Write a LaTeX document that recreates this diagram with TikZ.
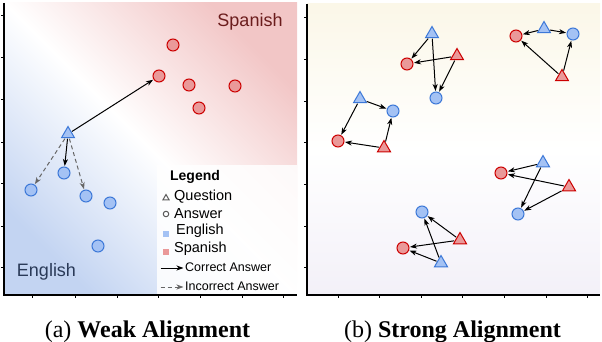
\documentclass[tikz,border=0pt]{standalone}
\usepackage{fontspec}
\setmainfont{Liberation Serif}
\newfontfamily\lsans{Liberation Sans}
\usetikzlibrary{shapes.geometric,arrows.meta}
\definecolor{bfill}{HTML}{A4C2F4}
\definecolor{bstroke}{HTML}{3C78D8}
\definecolor{rfill}{HTML}{EA9999}
\definecolor{rstroke}{HTML}{CC0000}
\definecolor{bshade}{HTML}{C3D4F2}
\definecolor{rshade}{HTML}{F2C6C6}
\definecolor{spantext}{HTML}{6B1C1C}
\definecolor{engtext}{HTML}{2A3A58}
\definecolor{ytop}{HTML}{FBF7E8}
\definecolor{lbot}{HTML}{F3F0F8}
\tikzset{
  bq/.style={regular polygon, regular polygon sides=3, draw=bstroke, fill=bfill, line width=1pt, inner sep=0pt, minimum size=15pt},
  rq/.style={bq, draw=rstroke, fill=rfill},
  ba/.style={circle, draw=bstroke, fill=bfill, line width=1pt, inner sep=0pt, minimum size=12pt},
  ra/.style={ba, draw=rstroke, fill=rfill},
  arr/.style={-{Stealth[length=7pt,width=5pt,inset=2pt]}, line width=1pt, black, shorten >=0.5pt, shorten <=0.5pt},
  darr/.style={arr, dash pattern=on 4pt off 3pt, black!60},
  axisline/.style={line width=1.1pt, black},
  tick/.style={line width=0.6pt, black},
  legtext/.style={font=\lsans\fontsize{14.5}{16}\selectfont, anchor=west, inner sep=0pt},
  legsmall/.style={font=\lsans\fontsize{12.5}{14}\selectfont, anchor=west, inner sep=0pt},
  captext/.style={font=\fontsize{24}{26}\selectfont, anchor=base, inner sep=0pt},
  bigtext/.style={font=\lsans\fontsize{18}{20}\selectfont}
}
\begin{document}
\begin{tikzpicture}[x=1pt,y=-1pt]
\useasboundingbox (0,0) rectangle (602,342);
% ---------- left panel background ----------
\shade[top color=rshade, bottom color=bshade, middle color=white, shading angle=-45] (4,3) rectangle (297,295);
\fill[white, opacity=0.85] (157,165) rectangle (297,294);
\node[bigtext, text=spantext] (lspan) at (250,22) {Spanish};
\node[bigtext, text=engtext] (leng) at (46.5,272) {English};
% axes
\draw[axisline] (4,3) -- (4,295) -- (297,295);
\foreach \yy in {15,57,99,142,183,226,267} \draw[tick] (4,\yy) -- (1,\yy);
\foreach \xx in {32,75,117,158,200,242,283} \draw[tick] (\xx,295) -- (\xx,298);
% points
\node[ra] (r1) at (173,45) {};
\node[ra] (r2) at (159,76) {};
\node[ra] (r3) at (189,85) {};
\node[ra] (r4) at (235,86) {};
\node[ra] (r5) at (199,108) {};
\node[bq] (q) at (68,134) {};
\node[ba] (b1) at (64,173) {};
\node[ba] (b2) at (31,190) {};
\node[ba] (b3) at (86,196) {};
\node[ba] (b4) at (110,203) {};
\node[ba] (b5) at (98,246) {};
\draw[arr] (q) -- (r2);
\draw[arr] (q) -- (b1);
\draw[darr] (q) -- (b2);
\draw[darr] (q) -- (b3);
% legend
\node[font=\lsans\bfseries\fontsize{14}{16}\selectfont] (lh) at (195,177) {Legend};
\node[regular polygon, regular polygon sides=3, draw=black!65, line width=1pt, inner sep=0pt, minimum size=7pt] (lq) at (166,198) {};
\node[legtext] (lqt) at (174,197) {Question};
\node[circle, draw=black!65, line width=1pt, inner sep=0pt, minimum size=5.5pt] (la) at (166,214) {};
\node[legtext] (lat) at (174,214) {Answer};
\node[fill=bfill, inner sep=0pt, minimum size=5.5pt] (le) at (166,234) {};
\node[legtext] (let) at (176,231) {English};
\node[fill=rfill, inner sep=0pt, minimum size=5.5pt] (ls) at (166,252) {};
\node[legtext] (lst) at (174,249) {Spanish};
\coordinate (lc1) at (160,268);
\coordinate (lc2) at (184,268);
\draw[arr] (lc1) -- (lc2);
\node[legsmall] (lct) at (185,267.5) {Correct Answer};
\coordinate (li1) at (160,287);
\coordinate (li2) at (184,287);
\draw[darr] (li1) -- (li2);
\node[legsmall] (lit) at (185,286.5) {Incorrect Answer};
% ---------- right panel ----------
\shade[top color=ytop, bottom color=lbot, middle color=white] (307,4) rectangle (600,295);
\draw[axisline] (307,4) -- (307,295) -- (600,295);
\foreach \yy in {17,59,101,142,184,226,267} \draw[tick] (307,\yy) -- (304,\yy);
\foreach \xx in {338,379,421,462,504,546,587} \draw[tick] (\xx,295) -- (\xx,298);
% group 1
\node[bq] (g1q) at (432,34) {};
\node[rq] (g1r) at (457,56) {};
\node[ra] (g1a) at (407,64) {};
\node[ba] (g1b) at (436,98) {};
\draw[arr] (g1q) -- (g1a);
\draw[arr] (g1q) -- (g1b);
\draw[arr] (g1r) -- (g1a);
\draw[arr] (g1r) -- (g1b);
% group 2
\node[ra] (g2a) at (516,36) {};
\node[bq] (g2q) at (544,29) {};
\node[ba] (g2b) at (573,34) {};
\node[rq] (g2r) at (562,77) {};
\draw[arr] (g2q) -- (g2a);
\draw[arr] (g2q) -- (g2b);
\draw[arr] (g2r) -- (g2a);
\draw[arr] (g2r) -- (g2b);
% group 3
\node[bq] (g3q) at (360,99) {};
\node[ba] (g3b) at (393,111) {};
\node[ra] (g3a) at (338,141) {};
\node[rq] (g3r) at (384,148) {};
\draw[arr] (g3q) -- (g3b);
\draw[arr] (g3q) -- (g3a);
\draw[arr] (g3r) -- (g3a);
\draw[arr] (g3r) -- (g3b);
% group 4
\node[bq] (g4q) at (543,163) {};
\node[ra] (g4a) at (501,173) {};
\node[rq] (g4r) at (569,187) {};
\node[ba] (g4b) at (518,214) {};
\draw[arr] (g4q) -- (g4a);
\draw[arr] (g4q) -- (g4b);
\draw[arr] (g4r) -- (g4a);
\draw[arr] (g4r) -- (g4b);
% group 5
\node[ba] (g5b) at (422,212) {};
\node[rq] (g5r) at (460,240) {};
\node[ra] (g5a) at (403,248) {};
\node[bq] (g5q) at (441,263) {};
\draw[arr] (g5r) -- (g5b);
\draw[arr] (g5r) -- (g5a);
\draw[arr] (g5q) -- (g5b);
\draw[arr] (g5q) -- (g5a);
% captions
\node[captext] (capa) at (147.5,337) {(a) \textbf{Weak Alignment}};
\node[captext] (capb) at (452.5,337) {(b) \textbf{Strong Alignment}};
\end{tikzpicture}
\end{document}
